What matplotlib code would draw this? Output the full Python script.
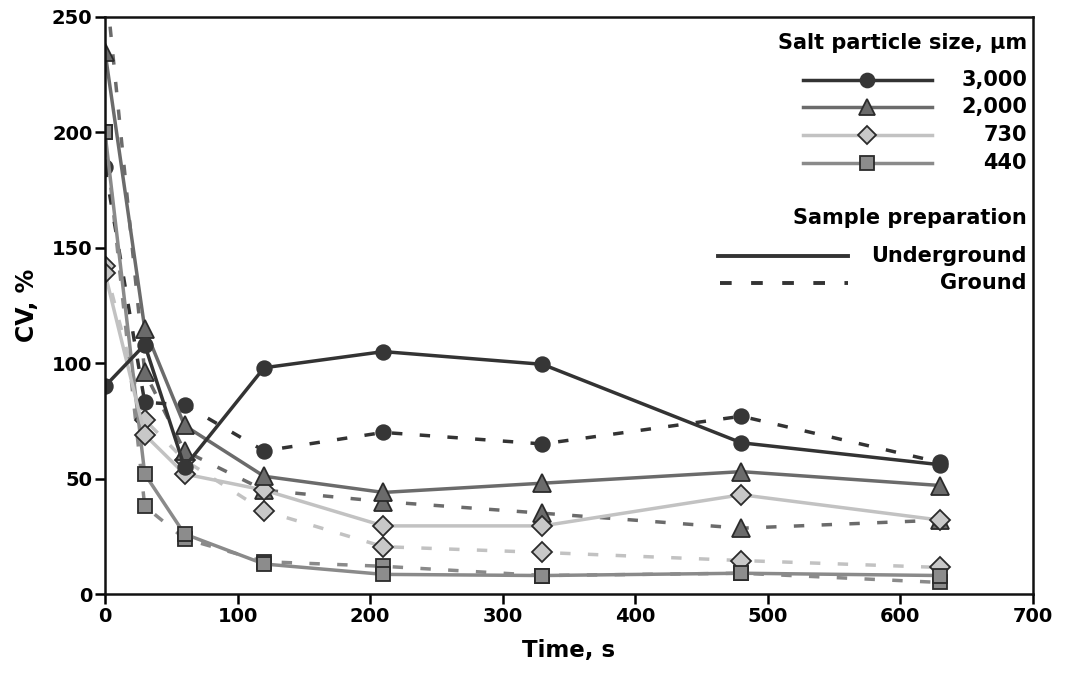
import matplotlib
matplotlib.use("Agg")
import matplotlib.pyplot as plt

plt.rcParams["font.family"] = ["DejaVu Sans"]
plt.rcParams["font.weight"] = "bold"

# time points (s)
time_s = [0, 30, 60, 120, 210, 330, 480, 630]

# CV (%) per salt particle size, underground (solid) and ground (dashed)
cv_3000_under = [90, 108, 55, 98, 105, 99.5, 65.5, 56]
cv_3000_ground = [185, 83, 82, 62, 70, 65, 77, 57]
cv_2000_under = [235, 115, 73, 51, 44, 48, 53, 47]
cv_2000_ground = [268, 96, 62, 45, 40, 35, 28.5, 32]
cv_730_under = [139, 69, 52, 45, 29.5, 29.5, 43, 32]
cv_730_ground = [142, 75.5, 58, 36, 20.5, 18, 14.5, 11.5]
cv_440_under = [200, 52, 26, 13, 8.5, 8, 9, 8]
cv_440_ground = [200, 38, 24, 14, 12, 8, 9, 5]

size_labels = ["3,000", "2,000", "730", "440"]
prep_labels = ["Underground", "Ground"]

x_ticks = [0, 100, 200, 300, 400, 500, 600, 700]
y_ticks = [0, 50, 100, 150, 200, 250]

dark = "#2b2b2b"
styles = {
    "3,000": dict(color="#333333", marker="o", ms=10.5, mfc="#363636", mec="#363636"),
    "2,000": dict(color="#6b6b6b", marker="^", ms=12.5, mfc="#6b6b6b", mec=dark),
    "730": dict(color="#c2c2c2", marker="D", ms=10, mfc="#c8c8c8", mec=dark),
    "440": dict(color="#8a8a8a", marker="s", ms=10, mfc="#8c8c8c", mec=dark),
}
series = {
    "3,000": (cv_3000_under, cv_3000_ground),
    "2,000": (cv_2000_under, cv_2000_ground),
    "730": (cv_730_under, cv_730_ground),
    "440": (cv_440_under, cv_440_ground),
}
dash = (0, (3, 5))

fig = plt.figure(figsize=(10.71, 6.75), dpi=100)
ax = fig.add_axes([0.098, 0.12, 0.8665, 0.855])

for key in ["440", "730", "2,000", "3,000"]:
    st = styles[key]
    under, ground = series[key]
    ax.plot(time_s, ground, linestyle=dash, lw=2.5, mew=1.3, **st)
for key in ["440", "730", "2,000", "3,000"]:
    st = styles[key]
    under, ground = series[key]
    ax.plot(time_s, under, linestyle="-", lw=2.5, mew=1.3, **st)

ax.set_xlim(0, 700)
ax.set_ylim(0, 250)
ax.set_xticks(x_ticks)
ax.set_yticks(y_ticks)
ax.tick_params(direction="out", length=7, width=1.8, labelsize=14, pad=2)
for sp in ax.spines.values():
    sp.set_linewidth(1.8)
    sp.set_color("#111111")
ax.set_xlabel("Time, s", fontsize=16.5, fontweight="bold", labelpad=10)
ax.set_ylabel("CV, %", fontsize=17, fontweight="bold", labelpad=9)

# legend drawn by hand so labels can sit right-aligned
tr = ax.transAxes
lab_x = 0.9935
ax.text(lab_x, 0.955, "Salt particle size, \u00b5m", transform=tr, ha="right",
        va="center", fontsize=15, fontweight="bold")
rows_y = [0.891, 0.843, 0.795, 0.747]
for lab, yy in zip(size_labels, rows_y):
    st = styles[lab]
    ax.plot([0.752, 0.891], [yy, yy], transform=tr, color=st["color"], lw=2.5,
            clip_on=False)
    ax.plot([0.8215], [yy], transform=tr, linestyle="none", marker=st["marker"],
            ms=st["ms"] - 0.5, mfc=st["mfc"], mec=st["mec"], mew=1.3, clip_on=False)
    ax.text(lab_x, yy, lab, transform=tr, ha="right", va="center", fontsize=15,
            fontweight="bold")

ax.text(lab_x, 0.652, "Sample preparation", transform=tr, ha="right", va="center",
        fontsize=15, fontweight="bold")
ax.plot([0.661, 0.801], [0.586, 0.586], transform=tr, color="#333333", lw=2.8,
        clip_on=False)
ax.text(lab_x, 0.586, prep_labels[0], transform=tr, ha="right", va="center",
        fontsize=15, fontweight="bold")
ax.plot([0.663, 0.801], [0.539, 0.539], transform=tr, color="#333333", lw=2.8,
        linestyle=(0, (3, 5)), clip_on=False)
ax.text(lab_x, 0.539, prep_labels[1], transform=tr, ha="right", va="center",
        fontsize=15, fontweight="bold")

fig.savefig("out.png", dpi=100)
